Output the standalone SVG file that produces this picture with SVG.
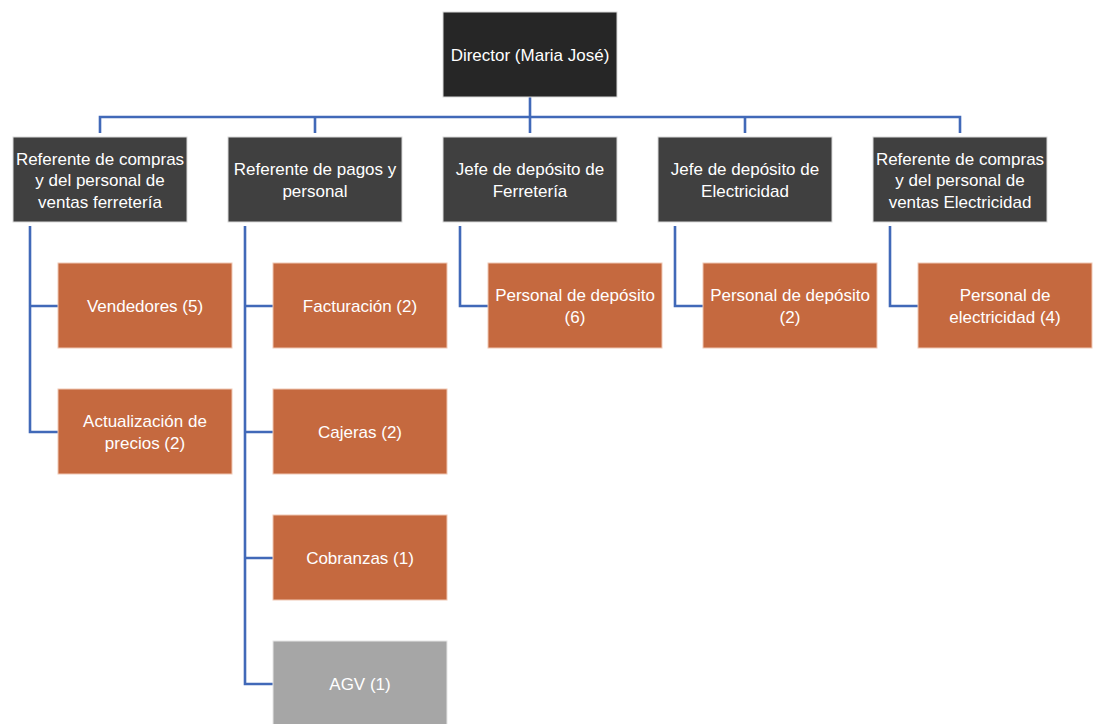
<svg xmlns="http://www.w3.org/2000/svg" width="1093" height="724" viewBox="0 0 1093 724">
<style>
.top{fill:#262626;stroke:#d9d9d9;stroke-width:1}
.mid{fill:#404040;stroke:#d9d9d9;stroke-width:1}
.leaf{fill:#c5693f;stroke:#f0c8b4;stroke-width:1}
.gray{fill:#a6a6a6;stroke:#e6e6e6;stroke-width:1}
text{font-family:"Liberation Sans",Arial,sans-serif;font-size:17px;fill:#ffffff;text-anchor:middle}
.c{fill:none;stroke:#4169b8;stroke-width:2.6}
</style>
<rect width="1093" height="724" fill="#ffffff"/>
<g id="connectors">
<path class="c" d="M530,97 V117 M100,133 V117 H960 V133 M315,117 V133 M530,117 V133 M745,117 V133"/>
<path class="c" d="M30,226 V432 H58 M30,306 H58"/>
<path class="c" d="M245,226 V684 H273 M245,306 H273 M245,432 H273 M245,558 H273"/>
<path class="c" d="M460,226 V306 H488"/>
<path class="c" d="M675,226 V306 H703"/>
<path class="c" d="M890,226 V306 H918"/>
</g>
<g id="director"><rect class="top" x="443" y="12" width="174" height="85"/><text x="530" y="60.5">Director (Maria José)</text></g>
<g id="ref-compras-ferreteria"><rect class="mid" x="13" y="137" width="174" height="85"/><text x="100" y="164.5">Referente de compras</text><text x="100" y="186">y del personal de</text><text x="100" y="207.5">ventas ferretería</text></g>
<g id="ref-pagos"><rect class="mid" x="228" y="137" width="174" height="85"/><text x="315" y="175">Referente de pagos y</text><text x="315" y="196.5">personal</text></g>
<g id="jefe-ferreteria"><rect class="mid" x="443" y="137" width="174" height="85"/><text x="530" y="175">Jefe de depósito de</text><text x="530" y="196.5">Ferretería</text></g>
<g id="jefe-electricidad"><rect class="mid" x="658" y="137" width="174" height="85"/><text x="745" y="175">Jefe de depósito de</text><text x="745" y="196.5">Electricidad</text></g>
<g id="ref-compras-electricidad"><rect class="mid" x="873" y="137" width="174" height="85"/><text x="960" y="164.5">Referente de compras</text><text x="960" y="186">y del personal de</text><text x="960" y="207.5">ventas Electricidad</text></g>
<g id="vendedores"><rect class="leaf" x="58" y="263" width="174" height="85"/><text x="145" y="312">Vendedores (5)</text></g>
<g id="actualizacion"><rect class="leaf" x="58" y="389" width="174" height="85"/><text x="145" y="427">Actualización de</text><text x="145" y="448.5">precios (2)</text></g>
<g id="facturacion"><rect class="leaf" x="273" y="263" width="174" height="85"/><text x="360" y="312">Facturación (2)</text></g>
<g id="cajeras"><rect class="leaf" x="273" y="389" width="174" height="85"/><text x="360" y="438">Cajeras (2)</text></g>
<g id="cobranzas"><rect class="leaf" x="273" y="515" width="174" height="85"/><text x="360" y="564">Cobranzas (1)</text></g>
<g id="agv"><rect class="gray" x="273" y="641" width="174" height="85"/><text x="360" y="690">AGV (1)</text></g>
<g id="personal-deposito-6"><rect class="leaf" x="488" y="263" width="174" height="85"/><text x="575" y="301">Personal de depósito</text><text x="575" y="322.5">(6)</text></g>
<g id="personal-deposito-2"><rect class="leaf" x="703" y="263" width="174" height="85"/><text x="790" y="301">Personal de depósito</text><text x="790" y="322.5">(2)</text></g>
<g id="personal-electricidad"><rect class="leaf" x="918" y="263" width="174" height="85"/><text x="1005" y="301">Personal de</text><text x="1005" y="322.5">electricidad (4)</text></g>
</svg>
